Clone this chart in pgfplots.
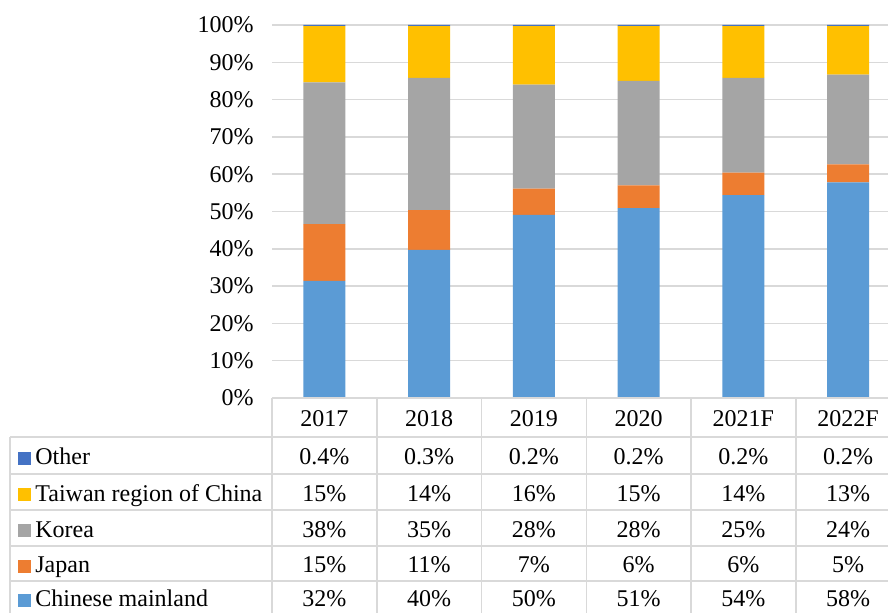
\documentclass[border=0pt]{standalone}
\usepackage{pgfplots}
\pgfplotsset{compat=1.18}
\usepackage{pgfplotstable}
\usepackage{fontspec}
\setmainfont{Liberation Serif}
\definecolor{cCN}{HTML}{5B9BD5}
\definecolor{cJP}{HTML}{ED7D31}
\definecolor{cKR}{HTML}{A5A5A5}
\definecolor{cTW}{HTML}{FFC000}
\definecolor{cOT}{HTML}{4472C4}
\definecolor{gridgray}{HTML}{D9D9D9}
\pgfplotstableread{
x cn jp kr tw ot
0 31.4 15.2 38.0 15.1 0.3
1 39.7 10.7 35.4 13.9 0.3
2 49.1 7.0 27.9 15.7 0.3
3 50.9 6.1 28.0 14.7 0.3
4 54.4 6.0 25.4 13.9 0.3
5 57.8 4.8 24.1 13.0 0.3
}\data
\begin{document}
\fontsize{12}{14}\selectfont
\begin{tikzpicture}
\useasboundingbox (0,0) rectangle (444pt,-306.5pt);
\begin{axis}[at={(136pt,-199pt)}, anchor=south west, scale only axis,
  width=308pt, height=186.5pt,
  xmin=-0.5, xmax=5.381, ymin=0, ymax=100,
  ybar stacked, bar width=21pt,
  xtick=\empty, ytick={0,10,...,100},
  yticklabel={\pgfmathprintnumber{\tick}\%},
  /pgf/number format/assume math mode=true,
  axis line style={draw=none}, ymajorgrids,
  major grid style={draw=gridgray, line width=0.75pt},
  major tick length=0pt,
  yticklabel style={anchor=east, inner sep=0pt, xshift=-9pt, font=\fontsize{12}{14}\selectfont},
  clip=false]
\addplot[fill=cCN, draw=none] table[x=x, y=cn] {\data};
\addplot[fill=cJP, draw=none] table[x=x, y=jp] {\data};
\addplot[fill=cKR, draw=none] table[x=x, y=kr] {\data};
\addplot[fill=cTW, draw=none] table[x=x, y=tw] {\data};
\addplot[fill=cOT, draw=none] table[x=x, y=ot] {\data};
\end{axis}
\begin{scope}[x=0.5pt, y=-0.5pt]
\draw[gridgray, line width=0.75pt] (272,398) -- (888,398);
\foreach \yy in {437,474,510,546,581} {
  \draw[gridgray, line width=0.75pt] (10,\yy) -- (888,\yy);
}
\draw[gridgray, line width=0.75pt] (10,437) -- (10,613);
\foreach \i in {0,...,5} {
  \draw[gridgray, line width=0.75pt] ({272+104.75*\i},398) -- ({272+104.75*\i},613);
}
\foreach \i/\t in {0/2017,1/2018,2/2019,3/2020,4/2021F,5/2022F} {
  \node[anchor=base, inner sep=0pt] at ({272+104.75*(\i+0.5)},426.5) {\t};
}
\foreach \i/\t in {0/0.4\%,1/0.3\%,2/0.2\%,3/0.2\%,4/0.2\%,5/0.2\%} {
  \node[anchor=base, inner sep=0pt] at ({272+104.75*(\i+0.5)},465) {\t};
}
\foreach \i/\t in {0/15\%,1/14\%,2/16\%,3/15\%,4/14\%,5/13\%} {
  \node[anchor=base, inner sep=0pt] at ({272+104.75*(\i+0.5)},501.5) {\t};
}
\foreach \i/\t in {0/38\%,1/35\%,2/28\%,3/28\%,4/25\%,5/24\%} {
  \node[anchor=base, inner sep=0pt] at ({272+104.75*(\i+0.5)},537.5) {\t};
}
\foreach \i/\t in {0/15\%,1/11\%,2/7\%,3/6\%,4/6\%,5/5\%} {
  \node[anchor=base, inner sep=0pt] at ({272+104.75*(\i+0.5)},573) {\t};
}
\foreach \i/\t in {0/32\%,1/40\%,2/50\%,3/51\%,4/54\%,5/58\%} {
  \node[anchor=base, inner sep=0pt] at ({272+104.75*(\i+0.5)},607) {\t};
}
\node[anchor=base west, inner sep=0pt] at (18,465) {\textcolor{cOT}{\rule{6.5pt}{6.5pt}}\hspace{2pt}Other};
\node[anchor=base west, inner sep=0pt] at (18,501.5) {\textcolor{cTW}{\rule{6.5pt}{6.5pt}}\hspace{2pt}Taiwan region of China};
\node[anchor=base west, inner sep=0pt] at (18,537.5) {\textcolor{cKR}{\rule{6.5pt}{6.5pt}}\hspace{2pt}Korea};
\node[anchor=base west, inner sep=0pt] at (18,573) {\textcolor{cJP}{\rule{6.5pt}{6.5pt}}\hspace{2pt}Japan};
\node[anchor=base west, inner sep=0pt] at (18,607) {\textcolor{cCN}{\rule{6.5pt}{6.5pt}}\hspace{2pt}Chinese mainland};
\end{scope}
\end{tikzpicture}
\end{document}
